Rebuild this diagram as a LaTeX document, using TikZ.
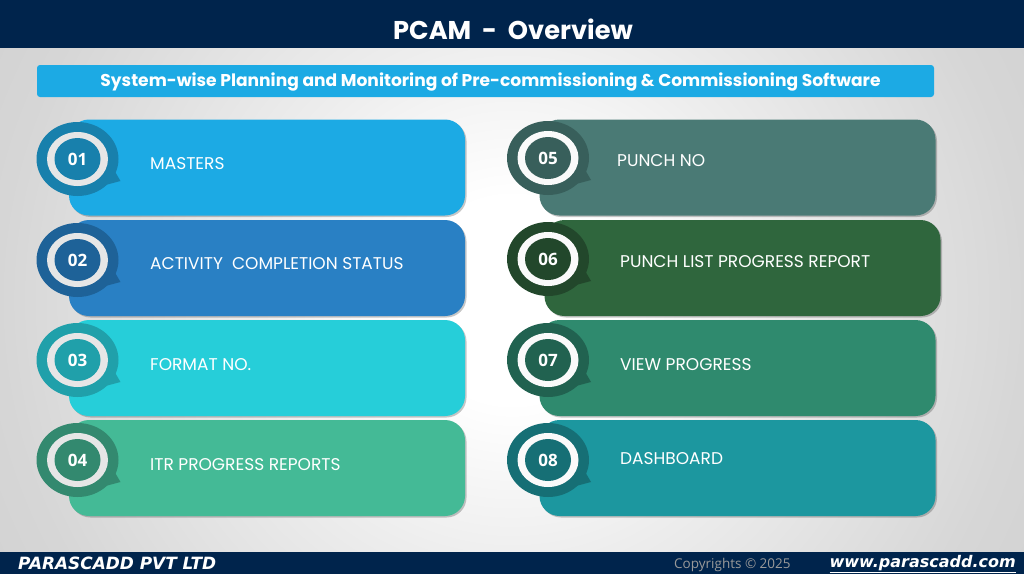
\documentclass[tikz,border=0pt]{standalone}
\usepackage{fontspec}
\setmainfont{Poppins}
\newfontfamily\numfont{Open Sans}
\newfontfamily\footfont{DejaVu Sans}
\usetikzlibrary{shapes.geometric,shadows}
\definecolor{navy}{HTML}{00244C}
\definecolor{barblue}{HTML}{1CAAE4}
\pgfdeclareradialshading{backglow}{\pgfpointorigin}{
  color(0bp)=(white); color(5bp)=(white); color(13bp)=(black!7); color(25bp)=(black!16); color(30bp)=(black!18); color(50bp)=(black!18)}
\tikzset{
  card/.style={rectangle, rounded corners=20pt, minimum height=96pt, minimum width=396pt, inner sep=0pt,
    drop shadow={shadow xshift=1.5pt, shadow yshift=-1.5pt, fill=black, opacity=.22}},
  cardtext/.style={anchor=west, inner sep=0pt, text=white, font=\fontsize{17}{19}\selectfont},
  ring/.style={ellipse, inner sep=0pt, minimum width=61pt, minimum height=54pt},
  hub/.style={ellipse, inner sep=0pt, minimum width=46pt, minimum height=42pt, text=white, font=\numfont\bfseries\fontsize{17}{19}\selectfont},
}
% #1 name, #2 centre, #3 dark colour, #4 ring colour, #5 number
\newcommand{\badge}[5]{
  \node[ellipse, fill=#3, minimum width=82pt, minimum height=74pt, inner sep=0pt] (#1) at (#2) {};
  \coordinate (#1tip) at ([shift={(43pt,-22pt)}]#1.center);
  \fill[#3] ([shift={(36pt,-10pt)}]#1.center) -- (#1tip) -- ([shift={(28pt,-26pt)}]#1.center) -- cycle;
  \node[ring, fill=#4] (#1ring) at (#2) {};
  \node[hub, fill=#3] (#1hub) at (#2) {#5};
}
\begin{document}
\begin{tikzpicture}[x=1pt,y=-1pt]
  \useasboundingbox (0,0) rectangle (1024,576);
  \fill[white] (0,0) rectangle (1024,576);
  \begin{scope}
    \clip (0,48) rectangle (1024,552);
    \shade[shading=backglow] (0,-212) rectangle (1024,812);
  \end{scope}
  % bars
  \fill[navy] (0,0) rectangle (1024,48);
  \fill[navy] (0,552) rectangle (1024,574);
  \node[text=white, font=\bfseries\fontsize{25.7}{28}\selectfont] (title) at (513,29) {PCAM\ \ -\ \ Overview};
  \node[fill=barblue, rounded corners=3pt, minimum width=897pt, minimum height=32pt, inner sep=0pt] (subbar) at (485.5,81) {};
  \node[text=white, font=\bfseries\fontsize{17.1}{19}\selectfont] (subtitle) at (490.5,82) {System-wise Planning and Monitoring of Pre-commissioning \& Commissioning Software};
  % left column
  \node[card, fill=barblue] (masters) at (267,167.5) {};
  \node[card, fill={rgb,255:red,41;green,128;blue,196}] (activity) at (267,268) {};
  \node[card, fill={rgb,255:red,38;green,206;blue,217}] (format) at (267,368) {};
  \node[card, fill={rgb,255:red,68;green,186;blue,150}] (itr) at (267,468) {};
  % right column
  \node[card, fill={rgb,255:red,74;green,122;blue,117}] (punch) at (737.5,167.5) {};
  \node[card, fill={rgb,255:red,47;green,102;blue,61}] (punchlist) at (742.5,268) {};
  \node[card, fill={rgb,255:red,47;green,138;blue,110}] (view) at (737.5,368) {};
  \node[card, fill={rgb,255:red,28;green,151;blue,159}] (dash) at (737.5,468) {};
  % badges
  \definecolor{ringl}{HTML}{E6E6E6}
  \definecolor{ringr}{HTML}{FAFAFA}
  \definecolor{ba}{HTML}{1880AC}
  \definecolor{bb}{HTML}{1E6298}
  \definecolor{bc}{HTML}{20A0AA}
  \definecolor{bd}{HTML}{33896F}
  \definecolor{be}{HTML}{385F5B}
  \definecolor{bf}{HTML}{22472B}
  \definecolor{bg}{HTML}{216250}
  \definecolor{bh}{HTML}{166F75}
  \badge{one}{77.5,159}{ba}{ringl}{01}
  \badge{two}{77.5,260}{bb}{ringl}{02}
  \badge{three}{77.5,360}{bc}{ringl}{03}
  \badge{four}{77.5,460}{bd}{ringl}{04}
  \badge{five}{548,158}{be}{ringr}{05}
  \badge{six}{548,259}{bf}{ringr}{06}
  \badge{seven}{548,360}{bg}{ringr}{07}
  \badge{eight}{548,460}{bh}{ringr}{08}
  % labels
  \node[cardtext] (mastersl) at (150,164) {MASTERS};
  \node[cardtext] (activityl) at (150,264) {ACTIVITY\ \ COMPLETION STATUS};
  \node[cardtext] (formatl) at (150,365) {FORMAT NO.};
  \node[cardtext] (itrl) at (150,465) {ITR PROGRESS REPORTS};
  \node[cardtext] (punchl) at (617,161) {PUNCH NO};
  \node[cardtext] (punchlistl) at (620,262) {PUNCH LIST PROGRESS REPORT};
  \node[cardtext] (viewl) at (620,365) {VIEW PROGRESS};
  \node[cardtext] (dashl) at (620,459) {DASHBOARD};
  % footer
  \node[anchor=west, inner sep=0pt, text=white, font=\footfont\bfseries\itshape\fontsize{16.9}{18}\selectfont] (company) at (18,563) {PARASCADD PVT LTD};
  \node[anchor=west, inner sep=0pt, text=black!40, font=\numfont\fontsize{13.5}{15}\selectfont] (copy) at (674,565) {Copyrights © 2025};
  \node[anchor=east, inner sep=0pt, text=white, font=\footfont\bfseries\itshape\fontsize{16}{18}\selectfont] (web) at (1016,564) {\underline{www.parascadd.com}};
\end{tikzpicture}
\end{document}
